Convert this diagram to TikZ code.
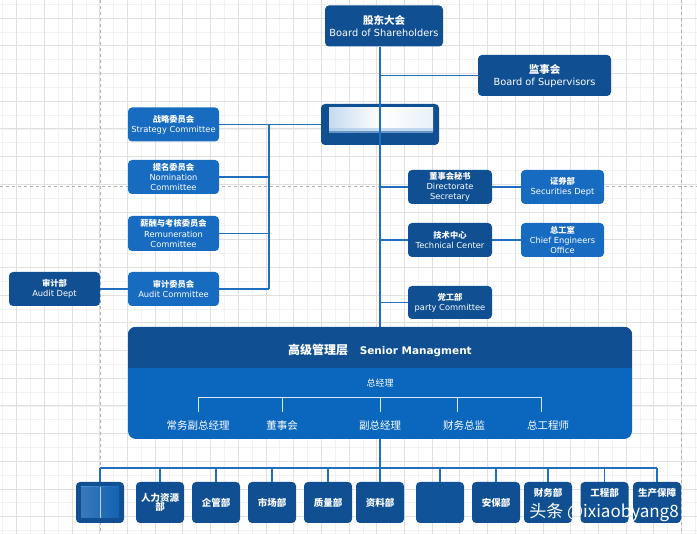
\documentclass[tikz,border=0pt]{standalone}
\usepackage{fontspec}
\setmainfont{DejaVu Sans}
\newfontfamily\cjk{Noto Sans CJK SC}
\definecolor{dk}{HTML}{0F4F92}
\definecolor{lt}{HTML}{176CC2}
\definecolor{bodyblue}{HTML}{0B66BE}
\definecolor{ln}{HTML}{1E6FC0}
\definecolor{gmin}{HTML}{F2F2F2}
\definecolor{gmaj}{HTML}{E0E0E0}
\newcommand{\zh}[1]{{\cjk\bfseries #1}}
\newcommand{\zr}[1]{{\cjk #1}}
\newcommand{\fs}[2]{\fontsize{#1}{#2}\selectfont}
\tikzset{
  box/.style={rounded corners=4pt, text=white, align=center, inner sep=0pt},
  dkbox/.style={box, fill=dk},
  ltbox/.style={box, fill=lt},
  topbox/.style={dkbox, minimum width=118pt, minimum height=41pt, font=\fs{9.8}{12}},
  combox/.style={ltbox, minimum width=91pt, minimum height=34pt, font=\fs{8.3}{10.2}},
  rbox/.style={minimum width=84pt, minimum height=34pt, font=\fs{8.3}{10.2}},
  botbox/.style={dkbox, minimum width=48pt, minimum height=41pt, font=\fs{9.5}{10.5}},
  conn/.style={draw=ln, line width=1.3pt},
  inner/.style={draw=white!85!bodyblue, line width=1pt},
  lbl/.style={text=white, font=\fs{10.5}{12}}
}
\begin{document}
\begin{tikzpicture}[x=1pt,y=-1pt]
\useasboundingbox (0,0) rectangle (697,534);
\fill[white] (0,0) rectangle (697,534);
% grid
\foreach \i in {0,...,50} {
  \draw[gmin, line width=0.5pt] ({2.65+13.85*\i},0) -- ({2.65+13.85*\i},534);
}
\foreach \i in {0,...,38} {
  \draw[gmin, line width=0.5pt] (0,{4.15+13.85*\i}) -- (697,{4.15+13.85*\i});
}
\foreach \i in {0,...,25} {
  \draw[gmaj, line width=0.6pt] ({16.5+27.7*\i},0) -- ({16.5+27.7*\i},534);
}
\foreach \i in {0,...,19} {
  \draw[gmaj, line width=0.6pt] (0,{18+27.7*\i}) -- (697,{18+27.7*\i});
}
\draw[gray!60, dashed, line width=0.6pt] (100,0) -- (100,534);
\draw[gray!60, dashed, line width=0.6pt] (681,0) -- (681,534);
\draw[gray!60, dashed, line width=0.6pt] (0,186) -- (697,186);

% top
\node[topbox] (sh) at (384,26) {\zh{\fs{10.5}{12}股东大会}\\Board of Shareholders};
\node[topbox, minimum width=133pt] (sup) at (544.5,75.5) {\zh{\fs{10.5}{12}监事会}\\Board of Supervisors};
\node[dkbox, minimum width=118pt, minimum height=41pt] (blur) at (380,124.5) {};
\shade[left color=white!75!lt, right color=white!90!lt, middle color=white] (329,108) rectangle (433,131);
\fill[white!60!lt, opacity=0.6] (329,128) rectangle (433,133);

% committees
\node[combox] (str) at (173.5,124.5) {\zh{战略委员会}\\Strategy Committee};
\node[combox] (nom) at (173.5,177) {\zh{提名委员会}\\Nomination\\Committee};
\node[combox, minimum height=35pt] (rem) at (173.5,233.5) {\zh{薪酬与考核委员会}\\Remuneration\\Committee};
\node[combox] (aud) at (173.5,289) {\zh{审计委员会}\\Audit Committee};
\node[combox, fill=dk] (audd) at (54.5,289) {\zh{审计部}\\Audit Dept};

% right side
\node[dkbox, rbox] (dsec) at (450,187) {\zh{董事会秘书}\\Directorate\\Secretary};
\node[ltbox, rbox, minimum width=83pt] (sec) at (562.5,187) {\zh{证券部}\\Securities Dept};
\node[dkbox, rbox] (tech) at (450,240) {\zh{技术中心}\\Technical Center};
\node[ltbox, rbox, minimum width=83pt] (chief) at (562.5,240) {\zh{总工室}\\Chief Engineers\\Office};
\node[dkbox, rbox, minimum height=33pt] (party) at (450,302.5) {\zh{党工部}\\party Committee};

% senior management
\node[fill=bodyblue, rounded corners=8pt, minimum width=504pt, minimum height=112pt, inner sep=0pt] (senior) at (380,383) {};
\begin{scope}
  \clip[rounded corners=8pt] (senior.north west) rectangle (senior.south east);
  \fill[dk] (senior.north west) rectangle (632,368);
\end{scope}
\node[text=white, font=\fs{10.5}{12}] (title) at (380,350) {\zh{\fs{12}{12}高级管理层}\hspace{1.1em}\bfseries Senior Managment};
\node[lbl, font=\fs{9}{10}] (gm) at (380,383) {\zr{总经理}};
\node[lbl] (v1) at (198,426) {\zr{常务副总经理}};
\node[lbl] (v2) at (282,426) {\zr{董事会}};
\node[lbl] (v3) at (380,426) {\zr{副总经理}};
\node[lbl] (v4) at (464,426) {\zr{财务总监}};
\node[lbl] (v5) at (548,426) {\zr{总工程师}};
\coordinate (bk) at (0,398);
\coordinate (bt) at (0,412);
\draw[inner] (v1 |- bt) -- (v1 |- bk) -- (541,398) -- (541,412);
\draw[inner] (v2 |- bk) -- (v2 |- bt);
\draw[inner] (v3 |- bk) -- (v3 |- bt);
\draw[inner] (457,398) -- (457,412);

% bottom departments
\node[botbox] (b1) at (100,502.5) {};
\shade[left color=lt!75!white, right color=lt] (81,487) rectangle (119,518);
\fill[dk, opacity=0.35] (81,487) rectangle (119,518);
\draw[white!70!lt, line width=0.6pt] (100,487) -- (100,518);
\node[botbox] (b2) at (160,502.5) {\zh{人力资源}\\[-1pt]\zh{部}};
\node[botbox] (b3) at (216,502.5) {\zh{企管部}};
\node[botbox] (b4) at (272,502.5) {\zh{市场部}};
\node[botbox] (b5) at (328,502.5) {\zh{质量部}};
\node[botbox] (b6) at (380,502.5) {\zh{资料部}};
\node[botbox, fill=dk!85!lt] (b7) at (440,502.5) {};
\node[botbox] (b8) at (496,502.5) {\zh{安保部}};
\node[botbox, text depth=21pt] (b9) at (548,502.5) {\zh{财务部}};
\node[botbox, text depth=21pt] (b10) at (604.5,502.5) {\zh{工程部}};
\node[botbox, text depth=21pt] (b11) at (657,502.5) {\zh{生产保障}};

% connectors
\coordinate (lbus) at (269,0);
\coordinate (bus) at (0,468);
\draw[conn] (blur.north |- sh.south) -- (blur.south);
\draw[conn] (blur.north |- sup.west) -- (sup.west);
\draw[conn] (blur.south) -- (senior.north);
\draw[conn] (blur.south |- dsec.west) -- (dsec.west);
\draw[conn] (blur.south |- tech.west) -- (tech.west);
\draw[conn] (blur.south |- party.west) -- (party.west);
\draw[conn] (dsec.east) -- (sec.west);
\draw[conn] (tech.east) -- (chief.west);
\draw[conn] (str.east) -- (blur.west);
\draw[conn] (lbus |- str.east) -- (lbus |- aud.east);
\draw[conn] (nom.east) -- (lbus |- nom.east);
\draw[conn] (rem.east) -- (lbus |- rem.east);
\draw[conn] (aud.east) -- (lbus |- aud.east);
\draw[conn] (audd.east) -- (aud.west);
\draw[conn] (senior.south) -- (senior.south |- bus);
\draw[conn] (b1.north |- bus) -- (b11.north |- bus);
\foreach \b in {b1,b2,b3,b4,b5,b6,b7,b8,b9,b10,b11} {
  \draw[conn] (\b.north |- bus) -- (\b.north);
}

% watermark
\node[text=white, inner sep=0pt, font={\cjk\fs{17}{18}}] (wm) at (604,512) {头条 @ixiaobyang8};
\end{tikzpicture}
\end{document}
